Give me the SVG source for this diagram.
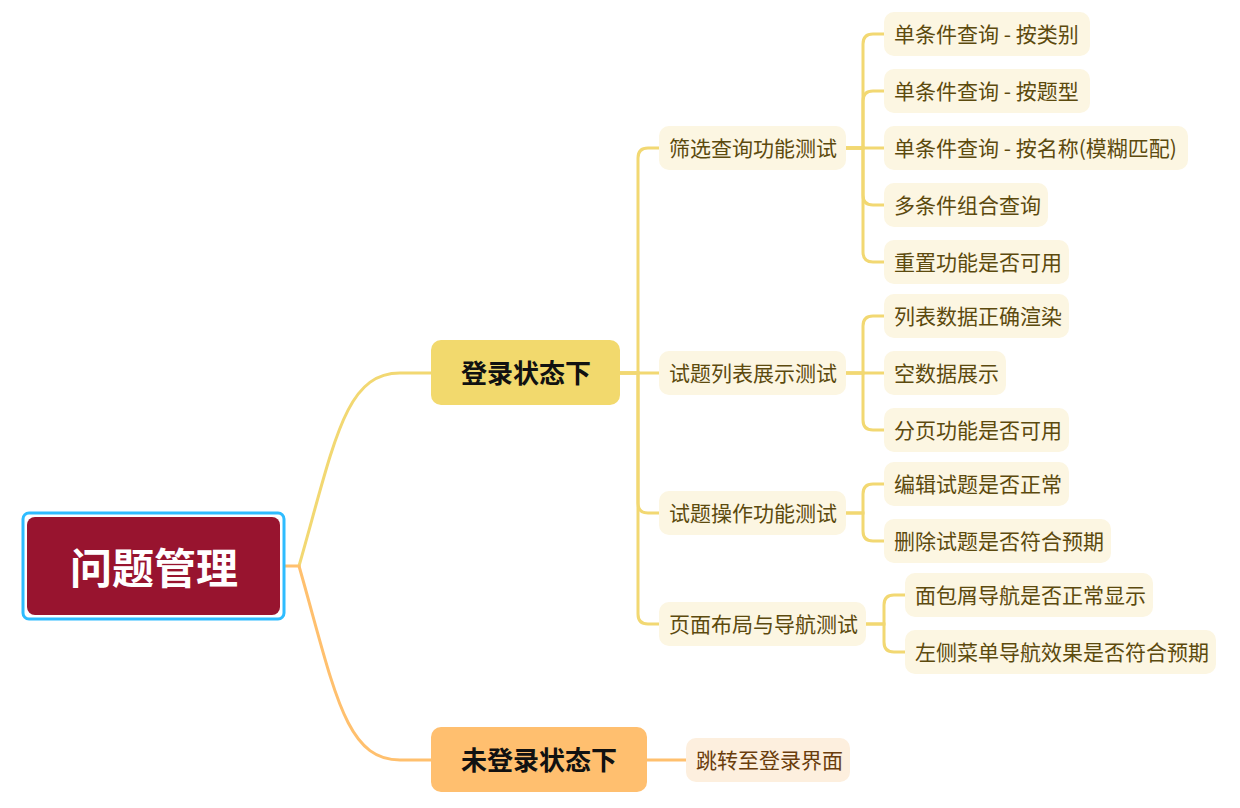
<svg xmlns="http://www.w3.org/2000/svg" width="1240" height="808" viewBox="0 0 1240 808">
<style>
text{font-family:"Noto Sans CJK SC","Noto Sans",sans-serif;}
.root{fill:#ffffff;font-size:42px;font-weight:700;}
.l1{fill:#111111;font-size:26px;font-weight:700;}
.n{fill:#5c4a0e;font-size:21px;}
.nb{fill:#6a3d0c;font-size:21px;}
.box{fill:#fcf6e2;}
.boxo{fill:#fdefde;}
.cy{fill:none;stroke:#f2d872;stroke-width:3;stroke-linecap:round;}
.co{fill:none;stroke:#ffc06e;stroke-width:3;stroke-linecap:round;}
</style>
<rect width="1240" height="808" fill="#ffffff"/>
<g id="connectors">
<path class="co" d="M285,566 H299"/>
<path class="cy" d="M299,566 C335,440 345,373 400,373 H431"/>
<path class="co" d="M299,566 C335,692 345,760 400,760 H431"/>
<path class="cy" d="M620,373 H638 V158 Q638,148 648,148 H659"/>
<path class="cy" d="M620,373 H659"/>
<path class="cy" d="M620,373 H638 V503 Q638,513 648,513 H659"/>
<path class="cy" d="M620,373 H638 V614 Q638,624 648,624 H659"/>
<path class="cy" d="M845,148 H863 V44 Q863,34 873,34 H884"/>
<path class="cy" d="M845,148 H863 V101 Q863,91 873,91 H884"/>
<path class="cy" d="M845,148 H884"/>
<path class="cy" d="M845,148 H863 V195 Q863,205 873,205 H884"/>
<path class="cy" d="M845,148 H863 V252 Q863,262 873,262 H884"/>
<path class="cy" d="M845,373 H863 V326 Q863,316 873,316 H884"/>
<path class="cy" d="M845,373 H884"/>
<path class="cy" d="M845,373 H863 V420 Q863,430 873,430 H884"/>
<path class="cy" d="M845,513 H863 V494 Q863,484 873,484 H884"/>
<path class="cy" d="M845,513 H863 V531 Q863,541 873,541 H884"/>
<path class="cy" d="M865,624 H884 V605 Q884,595 894,595 H905"/>
<path class="cy" d="M865,624 H884 V642 Q884,652 894,652 H905"/>
<path class="co" d="M647,760 H686"/>
</g>
<g id="root">
<rect x="23" y="513" width="261" height="106" rx="6" fill="none" stroke="#2ebcff" stroke-width="3"/>
<rect x="27" y="517" width="253" height="98" rx="8" fill="#98142f"/>
<text class="root" x="154" y="584" text-anchor="middle">问题管理</text>
</g>
<g id="n-login">
<rect x="431" y="340" width="189" height="65" rx="10" fill="#f2d96d"/>
<text class="l1" x="526" y="383" text-anchor="middle">登录状态下</text>
</g>
<g id="n-nologin">
<rect x="431" y="727" width="216" height="65" rx="10" fill="#ffbf6f"/>
<text class="l1" x="539" y="770" text-anchor="middle">未登录状态下</text>
</g>
<g id="n-filter">
<rect class="box" x="659" y="126" width="187" height="44" rx="10"/>
<text class="n" x="669" y="156">筛选查询功能测试</text>
</g>
<g id="n-list">
<rect class="box" x="659" y="351" width="187" height="44" rx="10"/>
<text class="n" x="669" y="381">试题列表展示测试</text>
</g>
<g id="n-op">
<rect class="box" x="659" y="491" width="187" height="44" rx="10"/>
<text class="n" x="669" y="521">试题操作功能测试</text>
</g>
<g id="n-layout">
<rect class="box" x="659" y="602" width="207" height="44" rx="10"/>
<text class="n" x="669" y="632">页面布局与导航测试</text>
</g>
<g id="n-f1">
<rect class="box" x="884" y="12" width="206" height="44" rx="10"/>
<text class="n" x="894" y="42">单条件查询 - 按类别</text>
</g>
<g id="n-f2">
<rect class="box" x="884" y="69" width="206" height="44" rx="10"/>
<text class="n" x="894" y="99">单条件查询 - 按题型</text>
</g>
<g id="n-f3">
<rect class="box" x="884" y="126" width="304" height="44" rx="10"/>
<text class="n" x="894" y="156">单条件查询 - 按名称(模糊匹配)</text>
</g>
<g id="n-f4">
<rect class="box" x="884" y="183" width="164" height="44" rx="10"/>
<text class="n" x="894" y="213">多条件组合查询</text>
</g>
<g id="n-f5">
<rect class="box" x="884" y="240" width="185" height="44" rx="10"/>
<text class="n" x="894" y="270">重置功能是否可用</text>
</g>
<g id="n-l1">
<rect class="box" x="884" y="294" width="185" height="44" rx="10"/>
<text class="n" x="894" y="324">列表数据正确渲染</text>
</g>
<g id="n-l2">
<rect class="box" x="884" y="351" width="122" height="44" rx="10"/>
<text class="n" x="894" y="381">空数据展示</text>
</g>
<g id="n-l3">
<rect class="box" x="884" y="408" width="185" height="44" rx="10"/>
<text class="n" x="894" y="438">分页功能是否可用</text>
</g>
<g id="n-o1">
<rect class="box" x="884" y="462" width="185" height="44" rx="10"/>
<text class="n" x="894" y="492">编辑试题是否正常</text>
</g>
<g id="n-o2">
<rect class="box" x="884" y="519" width="227" height="44" rx="10"/>
<text class="n" x="894" y="549">删除试题是否符合预期</text>
</g>
<g id="n-p1">
<rect class="box" x="905" y="573" width="248" height="44" rx="10"/>
<text class="n" x="915" y="603">面包屑导航是否正常显示</text>
</g>
<g id="n-p2">
<rect class="box" x="905" y="630" width="311" height="44" rx="10"/>
<text class="n" x="915" y="660">左侧菜单导航效果是否符合预期</text>
</g>
<g id="n-jump">
<rect class="boxo" x="686" y="738" width="164" height="44" rx="10"/>
<text class="nb" x="696" y="768">跳转至登录界面</text>
</g>
</svg>
